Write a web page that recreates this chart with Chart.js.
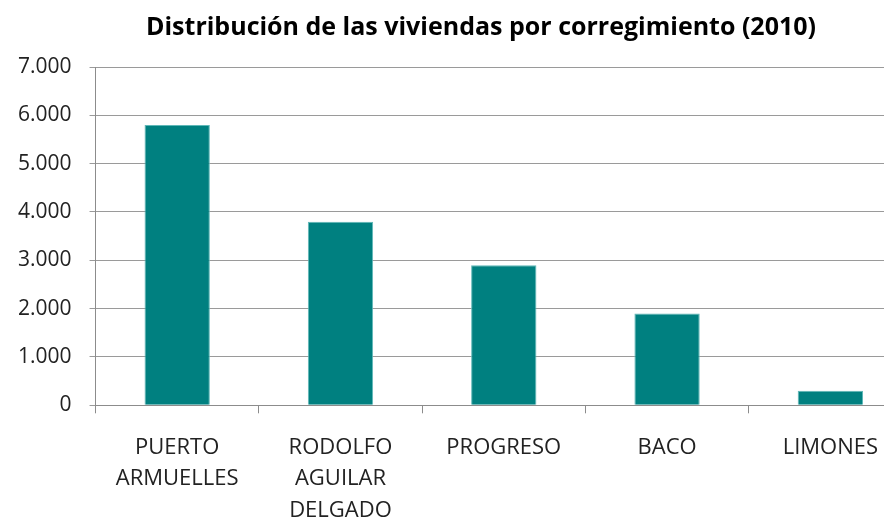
<!DOCTYPE html>
<html>
<head>
<meta charset="utf-8">
<script src="https://cdn.jsdelivr.net/npm/chart.js@4.4.1/dist/chart.umd.min.js"></script>
<style>
  html, body { margin: 0; padding: 0; background: #fff; overflow: hidden; }
  #wrap { width: 884px; height: 522px; overflow: hidden; }
</style>
</head>
<body>
<div id="wrap"><canvas id="myChart" width="962" height="522"></canvas></div>
<script>
const categories = [
  ["PUERTO", "ARMUELLES"],
  ["RODOLFO", "AGUILAR", "DELGADO"],
  "PROGRESO",
  "BACO",
  "LIMONES",
];
const viviendas = [5800, 3800, 2900, 1900, 300];
const yTicks = [0, 1000, 2000, 3000, 4000, 5000, 6000, 7000];

const cht = document.getElementById("myChart");

const chart = new Chart(cht, {
  type: "bar",
  data: {
    labels: categories,
    datasets: [
      {
        label: "Viviendas",
        data: viviendas,
        backgroundColor: "#008080",
        borderColor: "#5fb8b8",
        borderWidth: 1,
        barPercentage: 0.4,
        categoryPercentage: 1.0,
      },
    ],
  },
  options: {
    responsive: false,
    animation: false,
    layout: {
      padding: { left: 0, right: 0, top: 0, bottom: -23 },
    },
    scales: {
      x: {
        grid: {
          drawOnChartArea: false,
          color: "#8c8c8c",
          tickLength: 8,
        },
        border: { color: "#8c8c8c" },
        ticks: {
          color: "#222",
          padding: 18,
          font: { family: "Open Sans", size: 22, lineHeight: 1.45 },
          maxRotation: 0,
          autoSkip: false,
        },
      },
      y: {
        min: 0,
        max: 7000,
        afterBuildTicks: (axis) => {
          axis.ticks = yTicks.map((v) => ({ value: v }));
        },
        grid: {
          color: "#9a9a9a",
          tickLength: 6,
        },
        border: { color: "#8c8c8c" },
        ticks: {
          color: "#222",
          padding: 18,
          font: { family: "Open Sans", size: 21 },
          callback: (v) => v.toLocaleString("de-DE"),
        },
      },
      // empty spacer on the right, outside the visible window (original is cropped there)
      spacer: {
        position: "right",
        display: true,
        grid: { drawOnChartArea: false, drawTicks: false },
        border: { display: false },
        ticks: { display: false },
        afterFit: (axis) => {
          axis.width = 50;
        },
      },
    },
    plugins: {
      legend: { display: false },
      tooltip: { enabled: false },
      title: {
        display: true,
        text: "Distribución de las viviendas por corregimiento (2010)",
        color: "#000",
        font: { family: "Open Sans", size: 25, weight: "bold" },
        padding: { top: 13, bottom: 24 },
      },
    },
  },
});
</script>
</body>
</html>
